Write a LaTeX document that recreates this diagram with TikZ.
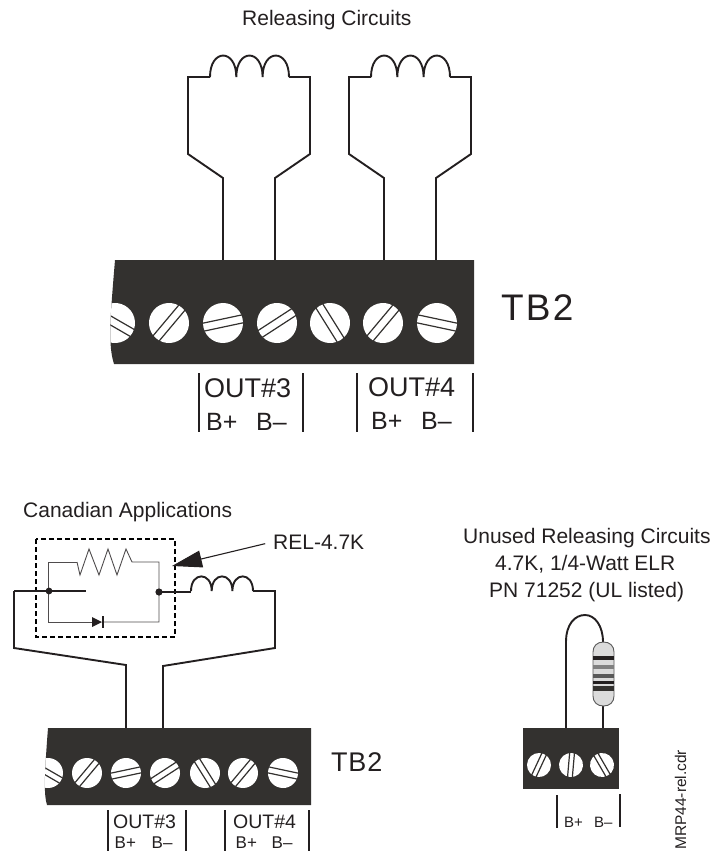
\documentclass[tikz,border=0pt]{standalone}
\usepackage{fontspec}
\setmainfont{Liberation Sans}
\usetikzlibrary{arrows.meta}
\definecolor{blockgray}{HTML}{33312F}
\definecolor{wireblack}{HTML}{231F20}
\tikzset{
  wire/.style={line width=1.9pt,color=wireblack,line join=miter},
  thin wire/.style={line width=.9pt,color=wireblack!80!white},
  bar/.style={line width=1.5pt,color=wireblack},
  txt/.style={inner sep=0pt,anchor=base west,color=wireblack},
  band/.style={line width=#1,line cap=butt},
}
\newcommand{\tbfont}[1]{\fontsize{#1}{#1}\selectfont}
% x, y, radius, angle of the slot
\newcommand{\tbscrew}[4]{
  \begin{scope}[shift={(#1,#2)},rotate=#4]
  \fill[white] (0,0) circle (#3);
  \draw[color=blockgray,line width=1.2pt] (-#3,-.2*#3) -- (#3,-.2*#3) (-#3,.2*#3) -- (#3,.2*#3);
  \end{scope}
}
% left end x, step, baseline y, height
\newcommand{\coilrun}[5]{
  \draw[wire] (#1,#3) .. controls (#1,{#3-#4*1.3}) and ({#1+#2},{#3-#4*1.3}) .. ({#1+#2},#3)
    .. controls ({#1+#2},{#3-#4*1.3}) and ({#1+2*#2},{#3-#4*1.3}) .. ({#1+2*#2},#3)
    .. controls ({#1+2*#2},{#3-#4*1.3}) and ({#1+#5},{#3-#4*1.3}) .. ({#1+#5},#3);
}
\begin{document}
\begin{tikzpicture}[x=1pt,y=-1pt,>=stealth]
\useasboundingbox (0,0) rectangle (714,851);

% upper block
\node[txt,font=\tbfont{21}] (title) at (242,26) {Releasing Circuits};
\draw[wire] (210,77) -- (188,77) -- (188,154) -- (223,178) -- (223,260);
\draw[wire] (289,77) -- (310,77) -- (310,154) -- (275,178) -- (275,260);
\coilrun{210}{26.3}{77}{22}{79}
\draw[wire] (371,77) -- (349,77) -- (349,154) -- (384,178) -- (384,260);
\draw[wire] (450,77) -- (471,77) -- (471,154) -- (436,178) -- (436,260);
\coilrun{371}{26.3}{77}{22}{79}
\begin{scope}
\path[clip] (115,260) -- (474,260) -- (474,364) -- (114,364) .. controls (108,345) and (110,320) .. (115,260) -- cycle;
\fill[blockgray] (100,250) rectangle (480,370);
\foreach \sx/\sa in {115/-30,169/50,223/12,277/33,330/-58,383/50,437/-12}
  {\tbscrew{\sx}{323}{20}{\sa}}
\end{scope}
\node[txt,font=\tbfont{37}\addfontfeature{LetterSpace=6}] (tba) at (501,320) {TB2};
\foreach \bx in {199,303,357,473}
  \draw[bar] (\bx,373) -- (\bx,432);
\node[txt,font=\tbfont{27}] (outa) at (204,397) {OUT\#3};
\node[txt,font=\tbfont{27}] (outb) at (368,396) {OUT\#4};
\node[txt,font=\tbfont{25}] (bpa) at (206,430) {B+};
\node[txt,font=\tbfont{25}] (bma) at (256,430) {B–};
\node[txt,font=\tbfont{25}] (bpb) at (371,429) {B+};
\node[txt,font=\tbfont{25}] (bmb) at (421,429) {B–};

% lower left block
\node[txt,font=\tbfont{21}] (canada) at (23,517) {Canadian Applications};
\draw[dashed,line width=1.2pt,dash pattern=on 5pt off 3pt] (36,539) rectangle (175,637);
\draw[thin wire] (77,562) -- (48,562) -- (48,622) -- (92,622);
\draw[thin wire] (77,562) -- (80,575) -- (89,549) -- (99,575) -- (108,549) -- (117,575) -- (126,549) -- (132,562) -- (159,562) -- (159,622) -- (103,622);
\fill[wireblack] (92,617) -- (102,622) -- (92,627) -- cycle;
\draw[line width=1.2pt,color=wireblack] (103,616) -- (103,628);
\draw[line width=2.1pt,color=wireblack] (14,591) -- (86,591);
\draw[line width=2.1pt,color=wireblack] (159,592) -- (191,592);
\fill[wireblack] (49,591) circle (3.4);
\fill[wireblack] (159,592) circle (3.6);
\draw[wire] (14,591) -- (14,648) -- (126,665) -- (126,729);
\draw[wire] (253,591) -- (275,591) -- (275,648) -- (163,666) -- (163,729);
\coilrun{191}{20.7}{591}{15}{62}
\node[txt,font=\tbfont{21}] (rel) at (273,549) {REL-4.7K};
\coordinate (reltip) at (172,566);
\draw[line width=1.1pt,color=wireblack,shorten <=8pt,-{Triangle[length=30pt,width=17pt]}] (rel.west) -- (reltip);
\begin{scope}
\path[clip] (48,728) -- (311,728) -- (311,805) -- (47,805) .. controls (44,795) and (44,780) .. (48,728) -- cycle;
\fill[blockgray] (40,720) rectangle (320,810);
\foreach \sx/\sa in {48/-30,87/50,126/12,165/33,205/-58,243/50,283/-12}
  {\tbscrew{\sx}{773}{15}{\sa}}
\end{scope}
\node[txt,font=\tbfont{27}\addfontfeature{LetterSpace=3}] (tbb) at (331,771.5) {TB2};
\foreach \bx in {108,186,225,309}
  \draw[bar] (\bx,810) -- (\bx,851);
\node[txt,font=\tbfont{19.5}] (outc) at (113,828) {OUT\#3};
\node[txt,font=\tbfont{19.5}] (outd) at (233,828) {OUT\#4};
\node[txt,font=\tbfont{17}] (bpc) at (114.5,848.5) {B+};
\node[txt,font=\tbfont{17}] (bmc) at (151.5,848.5) {B–};
\node[txt,font=\tbfont{17}] (bpd) at (235.5,848.5) {B+};
\node[txt,font=\tbfont{17}] (bmd) at (271.5,848.5) {B–};

% lower right block
\node[txt,font=\tbfont{21}] (unusa) at (463,543) {Unused Releasing Circuits};
\node[txt,font=\tbfont{21}] (unusb) at (495,570) {4.7K, 1/4-Watt ELR};
\node[txt,font=\tbfont{21}] (unusc) at (489,597) {PN 71252 (UL listed)};
\draw[wire] (566,728) -- (566,642) .. controls (566,624) and (575,615) .. (585,615) .. controls (595,615) and (603,626) .. (603,642);
\draw[wire] (603,706) -- (603,728);
\filldraw[fill=gray!28,draw=gray!70!black,line width=.9pt] (593,652) .. controls (593,646) and (597,642) .. (603.5,642) .. controls (610,642) and (614,646) .. (614,652) -- (614,696) .. controls (614,702) and (610,706) .. (603.5,706) .. controls (597,706) and (593,702) .. (593,696) -- cycle;
\draw[band=3.2pt,color=wireblack] (593,658) -- (614,658);
\draw[band=4pt,color=gray] (593,667) -- (614,667);
\draw[band=4.2pt,color=gray!70!black] (593,676) -- (614,676);
\draw[band=2.6pt,color=wireblack] (593,682.5) -- (614,682.5);
\draw[band=4.6pt,color=blockgray] (593,688.5) -- (614,688.5);
\fill[blockgray] (523,728) rectangle (619,789);
\foreach \sx/\sa in {539/65,571/85,602/120}
  {\tbscrew{\sx}{765}{12}{\sa}}
\draw[bar] (557,795) -- (557,828);
\draw[bar] (620,794) -- (620,827);
\node[txt,font=\tbfont{15}] (bpe) at (564,827) {B+};
\node[txt,font=\tbfont{15}] (bme) at (594,827) {B–};
\node[txt,font=\tbfont{15.5},rotate=90] (mrp) at (686,850) {MRP44-rel.cdr};
\end{tikzpicture}
\end{document}
